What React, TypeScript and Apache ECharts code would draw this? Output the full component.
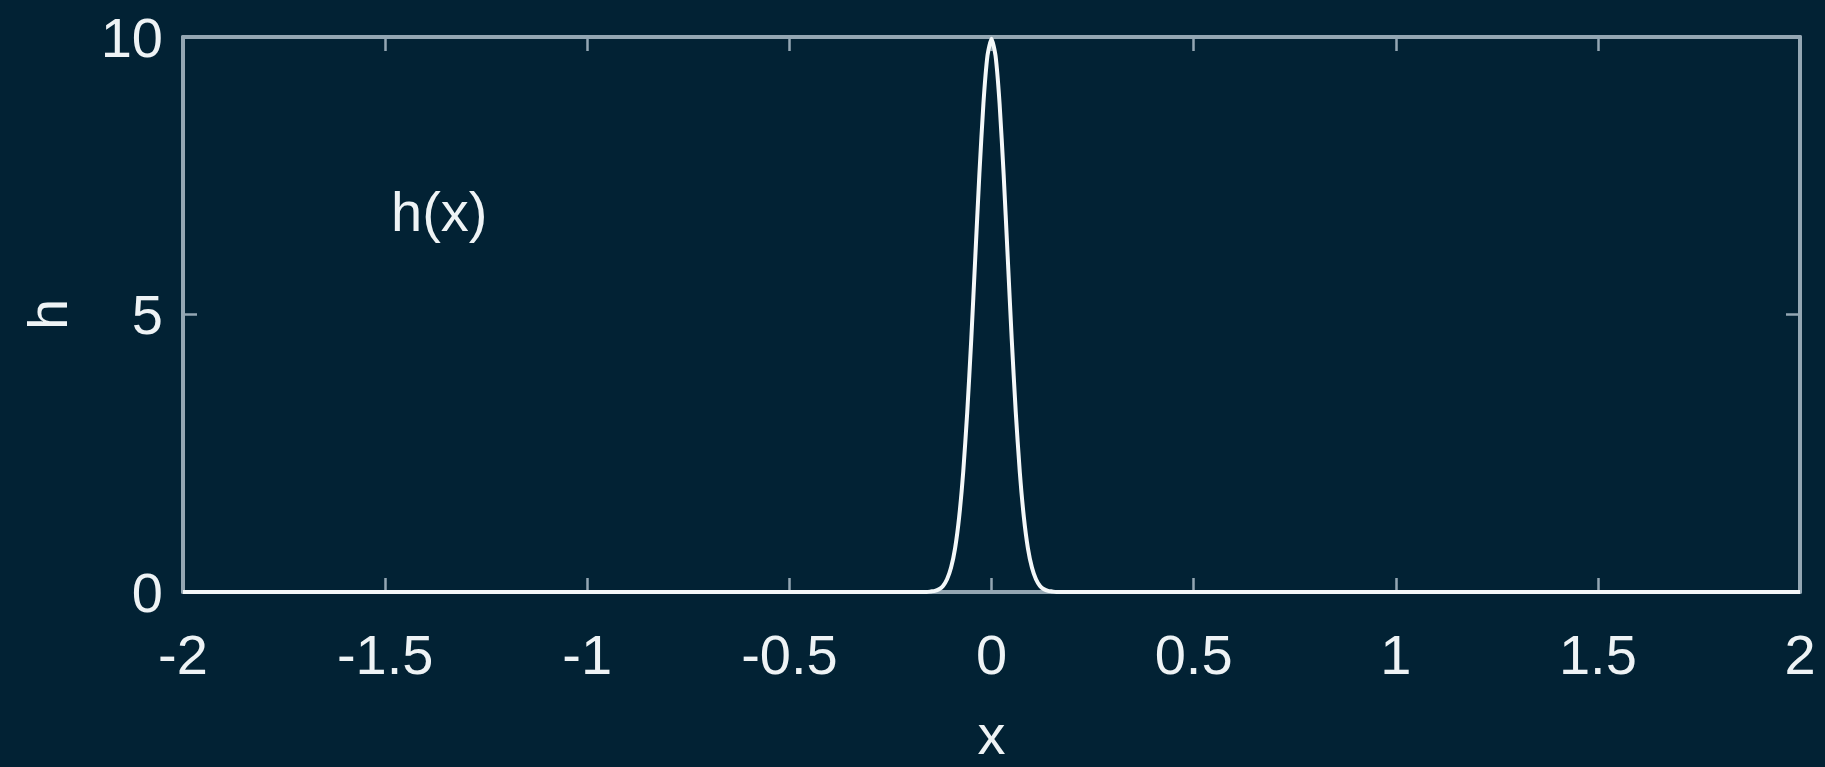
import React, { useEffect, useRef } from "react";
import * as echarts from "echarts";

// x positions and h(x) values
const xValues = [
  -2, -1.5, -1, -0.5, -0.2,
  -0.16, -0.15, -0.14, -0.13, -0.12, -0.11, -0.1, -0.09, -0.08, -0.07, -0.06, -0.05, -0.04, -0.03, -0.02, -0.01,
  0,
  0.01, 0.02, 0.03, 0.04, 0.05, 0.06, 0.07, 0.08, 0.09, 0.1, 0.11, 0.12, 0.13, 0.14, 0.15, 0.16,
  0.2, 0.5, 1, 1.5, 2,
];
const hValues = [
  0, 0, 0, 0, 0,
  0, 0.01, 0.02, 0.05, 0.11, 0.23, 0.44, 0.79, 1.35, 2.16, 3.24, 4.56, 6.05, 7.53, 8.8, 9.66,
  9.97,
  9.66, 8.8, 7.53, 6.05, 4.56, 3.24, 2.16, 1.35, 0.79, 0.44, 0.23, 0.11, 0.05, 0.02, 0.01, 0,
  0, 0, 0, 0, 0,
];
const xTicks = { min: -2, max: 2, interval: 0.5 };
const yTicks = { min: 0, max: 10, interval: 5 };
const curveLabel = "h(x)";
const xName = "x";
const yName = "h";

const BG = "#022234";
const AXIS = "#94a7b3";
const TEXT = "#eef3f5";
const FONT = "Liberation Sans";
const FS = 56;

export default function App() {
  const ref = useRef<HTMLDivElement>(null);
  useEffect(() => {
    document.body.style.margin = "0";
    document.body.style.background = BG;
    const chart = echarts.init(ref.current!, null, { renderer: "svg" });
    const data = xValues.map((x, i) => [x, hValues[i]]);
    const axisLine = { show: true, onZero: false, lineStyle: { color: AXIS, width: 4 } };
    const axisTick = { show: true, inside: true, length: 14, lineStyle: { color: AXIS, width: 2.5 } };
    chart.setOption({
      animation: false,
      backgroundColor: BG,
      textStyle: { fontFamily: FONT },
      grid: { left: 183, right: 25, top: 37, bottom: 170, show: false },
      title: {
        text: curveLabel,
        left: 386,
        top: 178,
        textStyle: { color: TEXT, fontFamily: FONT, fontSize: FS, fontWeight: "normal" },
      },
      xAxis: [
        {
          type: "value",
          position: "bottom",
          min: xTicks.min,
          max: xTicks.max,
          interval: xTicks.interval,
          name: xName,
          nameLocation: "middle",
          nameGap: 114,
          nameTextStyle: { color: TEXT, fontSize: FS, fontFamily: FONT },
          axisLine,
          axisTick,
          splitLine: { show: false },
          axisLabel: { color: TEXT, fontSize: FS, fontFamily: FONT, margin: 34 },
        },
        {
          type: "value",
          position: "top",
          min: xTicks.min,
          max: xTicks.max,
          interval: xTicks.interval,
          axisLine,
          axisTick,
          splitLine: { show: false },
          axisLabel: { show: false },
        },
      ],
      yAxis: [
        {
          type: "value",
          position: "left",
          min: yTicks.min,
          max: yTicks.max,
          interval: yTicks.interval,
          name: yName,
          nameLocation: "middle",
          nameGap: 108,
          nameTextStyle: { color: TEXT, fontSize: FS, fontFamily: FONT },
          axisLine,
          axisTick,
          splitLine: { show: false },
          axisLabel: { color: TEXT, fontSize: FS, fontFamily: FONT, margin: 20 },
        },
        {
          type: "value",
          position: "right",
          min: yTicks.min,
          max: yTicks.max,
          interval: yTicks.interval,
          axisLine,
          axisTick,
          splitLine: { show: false },
          axisLabel: { show: false },
        },
      ],
      series: [
        {
          type: "line",
          data,
          showSymbol: false,
          smooth: 0.2,
          lineStyle: { color: "#f4f8f9", width: 4 },
          z: 5,
        },
      ],
    });
    return () => chart.dispose();
  }, []);
  return (
    <div
      ref={ref}
      style={{ position: "absolute", left: 0, top: 0, width: 1825, height: 767, background: BG }}
    />
  );
}
